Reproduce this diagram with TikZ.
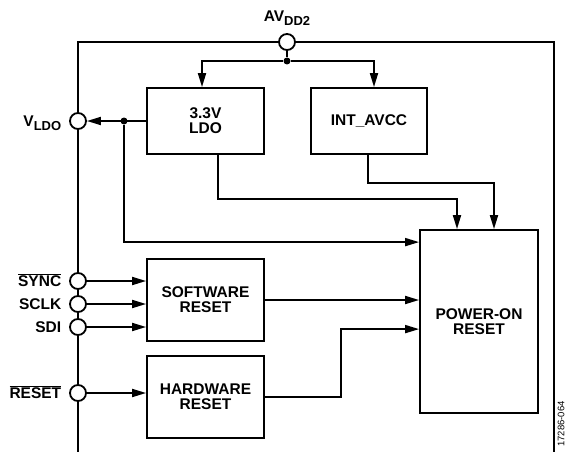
\documentclass[tikz,border=0pt]{standalone}
\usepackage{fontspec}
\setmainfont{Liberation Sans}
\usetikzlibrary{arrows.meta,positioning}

% pedice dei nomi dei pin e segnale negato
\newcommand{\pedice}[1]{\raisebox{-4pt}{\fontsize{13}{13}\selectfont #1}}
\newcommand{\negato}[1]{$\overline{\mbox{#1}}$}

\begin{document}
\begin{tikzpicture}[x=1pt, y=-1pt, line width=1.8pt,
    >={Triangle[length=14pt,width=8pt]},
    font=\bfseries\fontsize{15.5}{15}\selectfont]
	% Stili
	\tikzset{blocco/.style={rectangle, draw, align=center, inner sep=0pt},
		pin/.style={circle, draw, fill=white, minimum size=16pt, inner sep=0pt},
		punto/.style={circle, fill, minimum size=7pt, inner sep=0pt},
		etichetta/.style={inner sep=0pt, text height=11.2pt, text depth=0pt}}

	\useasboundingbox (0,0) rectangle (581,452);

	% Contorno del chip
	\draw (78,452) -- (78,42) -- (554,42) -- (554,452);

	% Blocchi
	\node[blocco, minimum width=117pt, minimum height=66pt] (ldo) at (205.5,121) {3.3V\\LDO};
	\node[blocco, minimum width=116pt, minimum height=66pt] (intavcc) at (369,121) {INT\_AVCC};
	\node[blocco, minimum width=117pt, minimum height=82pt] (swreset) at (205.5,300) {SOFTWARE\\RESET};
	\node[blocco, minimum width=117pt, minimum height=82pt] (hwreset) at (205.5,397) {HARDWARE\\RESET};
	\node[blocco, minimum width=118pt, minimum height=183pt] (por) at (479,321.5) {POWER-ON\\RESET};

	% Pin
	\node[pin] (avdd) at (287,42) {};
	\node[pin] (vldo) at (78,121) {};
	\node[pin] (sync) at (78,281) {};
	\node[pin] (sclk) at (78,304) {};
	\node[pin] (sdi) at (78,327) {};
	\node[pin] (reset) at (78,393) {};

	% Nomi dei pin
	\node[etichetta, above=11pt of avdd] (lavdd) {AV\pedice{DD2}};
	\node[etichetta, left=7pt of vldo] (lvldo) {V\pedice{LDO}};
	\node[etichetta, left=7pt of sync] (lsync) {\negato{SYNC}};
	\node[etichetta, left=7pt of sclk] (lsclk) {SCLK};
	\node[etichetta, left=7pt of sdi] (lsdi) {SDI};
	\node[etichetta, left=7pt of reset] (lreset) {\negato{RESET}};

	% Nodi di giunzione
	\node[punto] (j1) at (287,61) {};
	\node[punto] (j2) at (124,121) {};

	% Alimentazione
	\draw (avdd) -- (j1);
	\draw[->] (j1) -| ([xshift=-3.5pt]ldo.north);
	\draw[->] (j1) -| ([xshift=5pt]intavcc.north);
	\draw[->] (ldo) -- (vldo);
	\draw[->] (j2) |- ([yshift=-13pt]por.north west);
	\draw[->] ([xshift=12.5pt]ldo.south) -- ++(0,44) -| ([xshift=-22pt]por.north);
	\draw[->] ([xshift=-1pt]intavcc.south) -- ++(0,28) -| ([xshift=15pt]por.north);

	% Interfaccia seriale e reset
	\draw[->] (sync) -- (sync -| swreset.west);
	\draw[->] (sclk) -- (sclk -| swreset.west);
	\draw[->] (sdi) -- (sdi -| swreset.west);
	\draw[->] (reset) -- (reset -| hwreset.west);
	\draw[->] (swreset.east) -- (swreset.east -| por.west);
	\draw[->] (hwreset.east) -- ++(76,0) |- ([yshift=-100pt]por.north west);

	% Codice della figura
	\node[rotate=90, anchor=west, font=\mdseries\fontsize{9.5}{10}\selectfont] (codice) at (561,451) {17286-064};
\end{tikzpicture}
\end{document}
